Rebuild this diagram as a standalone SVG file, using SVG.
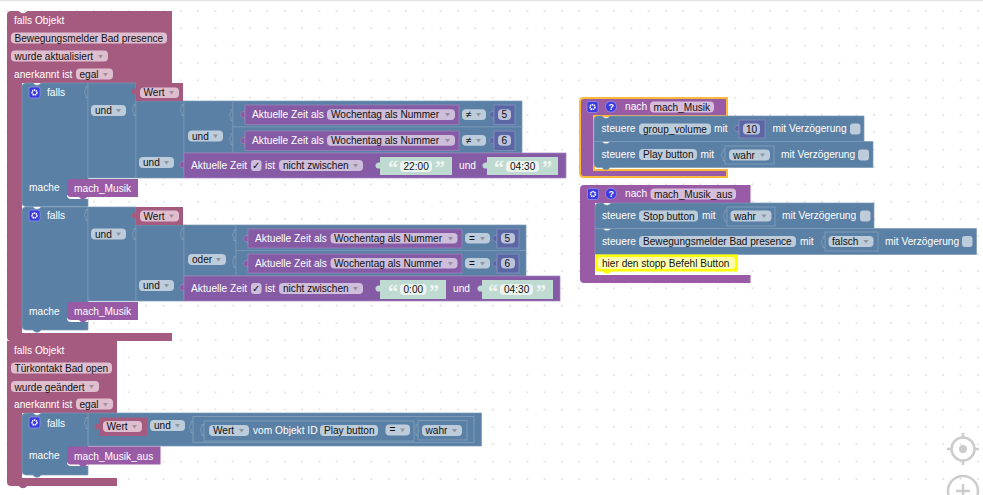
<svg xmlns="http://www.w3.org/2000/svg" width="983" height="495" viewBox="0 0 983 495">
<style>
text{font-family:"Liberation Sans",Arial,sans-serif;font-size:10.2px;fill:#fff;dominant-baseline:central}
text.d{fill:#111;font-size:10.1px}
text.q{font-size:20px;fill:#fff;opacity:.75;font-family:"Liberation Serif",serif;font-weight:bold}
.pk{fill:#a55b80}.bl{fill:#5b80a5;stroke:#7c99b7;stroke-width:.7}.tm{fill:#855ba5;stroke:#a484bc;stroke-width:.7}.pr{fill:#995ba5}
.gr{fill:#bfdbd1}.nm{fill:#5b67a5;stroke:#8089bb;stroke-width:1}
.fp{fill:#dfbfcf}.fb{fill:#bdccdb}.ft{fill:#cebddb}.fr{fill:#d6bddb}.fg{fill:#ebf4f1}.fn{fill:#bdc2db}
.ln{fill:none;stroke:#7c99b7;stroke-width:1}
.sk{fill:#fff;fill-opacity:0;stroke:#7c99b7;stroke-width:1}
.ar{fill:#555;opacity:.45}
.gear{fill:#3a3ae0;stroke:#9a9aee;stroke-width:.7}
</style>
<defs>
<pattern id="grid" x="7.4" y="11" width="17.33" height="17.33" patternUnits="userSpaceOnUse"><rect x="-.7" y="-.7" width="1.6" height="1.6" fill="#dcdcdc"/><rect x="16.6" y="16.6" width="1.6" height="1.6" fill="#dcdcdc"/><rect x="16.6" y="-.7" width="1.6" height="1.6" fill="#dcdcdc"/><rect x="-.7" y="16.6" width="1.6" height="1.6" fill="#dcdcdc"/></pattern>
<path id="tab" d="M0-5.5V-3.5C-6-4.5-6 3.5 0 2.5V5.5Z"/>
<path id="sock" d="M0-5.500h-2V-2.500C-4-2.500-4 2.500-2 2.500V5.500H0" fill="none"/>
<path id="ar" d="M0 0h5l-2.500 3.500z"/>
<g id="gr"><rect width="11" height="11" rx="2" class="gear"/><circle cx="5.500" cy="5.500" r="2.400" fill="none" stroke="#fff" stroke-width="1.600" stroke-dasharray="1.400 .5"/></g>
</defs>
<rect width="983" height="495" fill="#fff"/>
<rect width="983" height="495" fill="url(#grid)"/>
<rect width="983" height="1.200" fill="#e3e3e3"/>

<g id="connectors"></g>

<g id="trigger-bewegung">
<path class="pk" d="M11 11H19C21 14 25 14 27 11H172V83H22V333H172V341H27C25 344 21 344 19 341H11Q7 341 7 337V15Q7 11 11 11Z"/>
<text x="14" y="20.500">falls Objekt</text>
<rect class="fp" x="11" y="32.500" width="156" height="11" rx="4"/><text class="d" x="14.500" y="38.500">Bewegungsmelder Bad presence</text>
<rect class="fp" x="11" y="50.500" width="97" height="11" rx="4"/><text class="d" x="14.500" y="56.500">wurde aktualisiert</text><use href="#ar" x="98" y="55" class="ar"/>
<text x="14" y="74.500">anerkannt ist</text>
<rect class="fp" x="76" y="68.500" width="37" height="11" rx="4"/><text class="d" x="79.500" y="74.500">egal</text><use href="#ar" x="103" y="73" class="ar"/>
</g>

<g id="falls-1">
<path class="bl" d="M26 83H33C35 86 39 86 41 83H88V206.500H26Q22 206.500 22 202.500V87Q22 83 26 83Z"/>
<rect class="bl" x="88" y="83" width="48" height="95"/>
<rect class="bl" x="136" y="101" width="48" height="77"/>
<rect class="bl" x="184" y="101" width="49" height="52"/>
<rect class="bl" x="233" y="101" width="289" height="26"/>
<rect class="bl" x="233" y="127" width="289" height="26"/>
<path d="M67 195H88V199H71Q67 199 67 195Z" fill="#fff"/>
<use href="#gr" x="29" y="87"/>
<text x="47" y="92.500">falls</text>
<use href="#sock" x="88" y="92" class="ln"/><use href="#sock" x="136" y="110" class="ln"/><use href="#sock" x="184" y="110" class="ln"/><use href="#sock" x="233" y="115" class="ln"/><use href="#sock" x="233" y="139" class="ln"/>
<rect class="fb" x="91" y="105" width="35" height="11" rx="4"/><text class="d" x="95" y="110.500">und</text><use href="#ar" x="116" y="109" class="ar"/>
<rect class="fb" x="188" y="130.500" width="35" height="11" rx="4"/><text class="d" x="192" y="136">und</text><use href="#ar" x="213" y="134.500" class="ar"/>
<rect class="fb" x="139" y="157" width="35" height="11" rx="4"/><text class="d" x="143" y="162.500">und</text><use href="#ar" x="164" y="161" class="ar"/>
<text x="29" y="187">mache</text>
</g>
<g id="wert-1"><use href="#tab" x="136" y="92" class="pk"/><rect class="pk" x="136" y="83" width="47" height="18"/><rect class="fp" x="140" y="87.500" width="39" height="10.500" rx="4"/><text class="d" x="143.500" y="92.500">Wert</text><use href="#ar" x="169" y="91" class="ar"/></g>
<g id="zeit-1a"><use href="#tab" x="245" y="115" class="tm"/><rect class="tm" x="245" y="105" width="214" height="19.500"/><text x="252" y="114.700">Aktuelle Zeit als</text><rect class="ft" x="327" y="109.300" width="128" height="10.700" rx="4"/><text class="d" x="331" y="114.700">Wochentag als Nummer</text><use href="#ar" x="445" y="113" class="ar"/>
<rect class="fb" x="462" y="109.300" width="24" height="10.700" rx="4"/><text class="d" x="466" y="114.500">≠</text><use href="#ar" x="476" y="113" class="ar"/></g>
<g id="num-1a"><use href="#tab" x="494" y="115" class="nm"/><rect class="nm" x="494" y="105" width="21" height="19.500"/><rect class="fn" x="498" y="109.300" width="13" height="10.700" rx="4"/><text class="d" x="501.500" y="114.700">5</text></g>
<g id="zeit-1b"><use href="#tab" x="245" y="141" class="tm"/><rect class="tm" x="245" y="131" width="214" height="19.500"/><text x="252" y="140.500">Aktuelle Zeit als</text><rect class="ft" x="327" y="135" width="128" height="10.700" rx="4"/><text class="d" x="331" y="140.500">Wochentag als Nummer</text><use href="#ar" x="445" y="139" class="ar"/>
<rect class="fb" x="462" y="135" width="24" height="10.700" rx="4"/><text class="d" x="466" y="140">≠</text><use href="#ar" x="476" y="139" class="ar"/></g>
<g id="num-1b"><use href="#tab" x="494" y="141" class="nm"/><rect class="nm" x="494" y="131" width="21" height="19.500"/><rect class="fn" x="498" y="135" width="13" height="10.700" rx="4"/><text class="d" x="501.500" y="140.500">6</text></g>
<g id="zeit-1c"><use href="#tab" x="184" y="165" class="tm"/><rect class="tm" x="184" y="153" width="382" height="25"/><text x="191" y="165.500">Aktuelle Zeit</text><rect class="ft" x="251" y="160" width="10.500" height="11" rx="3"/><text class="d" x="252" y="165.500">✓</text><text x="265" y="165.500">ist</text>
<rect class="ft" x="279" y="160" width="84" height="11" rx="4"/><text class="d" x="283" y="165.500">nicht zwischen</text><use href="#ar" x="353" y="164" class="ar"/>
<use href="#tab" x="380" y="166" class="gr"/><rect class="gr" x="380" y="157" width="72" height="18"/><text class="q" x="388" y="168">“</text><rect class="fg" x="400" y="161" width="32" height="11" rx="4"/><text class="d" x="403.500" y="166.500">22:00</text><text class="q" x="435" y="168">”</text>
<text x="459" y="165.500">und</text>
<use href="#tab" x="487" y="166" class="gr"/><rect class="gr" x="487" y="157" width="71" height="18"/><text class="q" x="494" y="168">“</text><rect class="fg" x="506" y="161" width="33" height="11" rx="4"/><text class="d" x="510" y="166.500">04:30</text><text class="q" x="542" y="168">”</text></g>
<g id="call-1"><path class="pr" d="M71 179H138V197H87C85 200 81 200 79 197H71Q67 197 67 193V183Q67 179 71 179Z"/><text x="74" y="188">mach_Musik</text></g>

<g id="falls-2">
<path class="bl" d="M26 207H33C35 210 39 210 41 207H88V330H41C39 333 35 333 33 330H26Q22 330 22 326V211Q22 207 26 207Z"/>
<rect class="bl" x="88" y="207" width="48" height="94"/>
<rect class="bl" x="136" y="225" width="48" height="76"/>
<rect class="bl" x="184" y="225" width="52" height="51"/>
<rect class="bl" x="236" y="225" width="290" height="25.500"/>
<rect class="bl" x="236" y="250.500" width="290" height="25.500"/>
<path d="M67 318H88V322H71Q67 322 67 318Z" fill="#fff"/>
<use href="#gr" x="29" y="210"/>
<text x="47" y="215.500">falls</text>
<use href="#sock" x="88" y="215" class="ln"/><use href="#sock" x="136" y="234" class="ln"/><use href="#sock" x="184" y="234" class="ln"/><use href="#sock" x="236" y="235" class="ln"/><use href="#sock" x="236" y="262" class="ln"/>
<rect class="fb" x="91" y="228.500" width="35" height="11" rx="4"/><text class="d" x="95" y="234">und</text><use href="#ar" x="116" y="232.500" class="ar"/>
<rect class="fb" x="188" y="254" width="38" height="11" rx="4"/><text class="d" x="192" y="259.500">oder</text><use href="#ar" x="216" y="258" class="ar"/>
<rect class="fb" x="139" y="280" width="35" height="11" rx="4"/><text class="d" x="143" y="285.500">und</text><use href="#ar" x="164" y="284" class="ar"/>
<text x="29" y="311">mache</text>
</g>
<g id="wert-2"><use href="#tab" x="136" y="216" class="pk"/><rect class="pk" x="136" y="207" width="47" height="18"/><rect class="fp" x="140" y="210.500" width="39" height="11" rx="4"/><text class="d" x="143.500" y="216">Wert</text><use href="#ar" x="169" y="214.500" class="ar"/></g>
<g id="zeit-2a"><use href="#tab" x="248" y="239" class="tm"/><rect class="tm" x="248" y="229" width="214" height="19"/><text x="255" y="238.500">Aktuelle Zeit als</text><rect class="ft" x="330.500" y="233" width="127" height="10.500" rx="4"/><text class="d" x="334" y="238.500">Wochentag als Nummer</text><use href="#ar" x="448" y="237" class="ar"/>
<rect class="fb" x="465" y="233" width="25" height="10.500" rx="4"/><text class="d" x="469" y="238">=</text><use href="#ar" x="480" y="237" class="ar"/></g>
<g id="num-2a"><use href="#tab" x="497" y="239" class="nm"/><rect class="nm" x="497" y="229" width="22" height="19"/><rect class="fn" x="501" y="233" width="14" height="10.500" rx="4"/><text class="d" x="504.500" y="238.500">5</text></g>
<g id="zeit-2b"><use href="#tab" x="248" y="264" class="tm"/><rect class="tm" x="248" y="254" width="214" height="19"/><text x="255" y="263.500">Aktuelle Zeit als</text><rect class="ft" x="330.500" y="258" width="127" height="10.500" rx="4"/><text class="d" x="334" y="263.500">Wochentag als Nummer</text><use href="#ar" x="448" y="262" class="ar"/>
<rect class="fb" x="465" y="258" width="25" height="10.500" rx="4"/><text class="d" x="469" y="263">=</text><use href="#ar" x="480" y="262" class="ar"/></g>
<g id="num-2b"><use href="#tab" x="497" y="264" class="nm"/><rect class="nm" x="497" y="254" width="22" height="19"/><rect class="fn" x="501" y="258" width="14" height="10.500" rx="4"/><text class="d" x="504.500" y="263.500">6</text></g>
<g id="zeit-2c"><use href="#tab" x="184" y="288" class="tm"/><rect class="tm" x="184" y="276" width="376" height="25"/><text x="191" y="288.500">Aktuelle Zeit</text><rect class="ft" x="251" y="283" width="10.500" height="11" rx="3"/><text class="d" x="252" y="288.500">✓</text><text x="265" y="288.500">ist</text>
<rect class="ft" x="279" y="283" width="84" height="11" rx="4"/><text class="d" x="283" y="288.500">nicht zwischen</text><use href="#ar" x="353" y="287" class="ar"/>
<use href="#tab" x="380" y="289" class="gr"/><rect class="gr" x="380" y="280" width="66" height="19"/><text class="q" x="388" y="291.500">“</text><rect class="fg" x="400" y="284" width="26.500" height="11" rx="4"/><text class="d" x="403.500" y="289.500">0:00</text><text class="q" x="429" y="291.500">”</text>
<text x="453" y="288.500">und</text>
<use href="#tab" x="482" y="289" class="gr"/><rect class="gr" x="482" y="280" width="71" height="19"/><text class="q" x="488" y="291.500">“</text><rect class="fg" x="500" y="284" width="33" height="11" rx="4"/><text class="d" x="504" y="289.500">04:30</text><text class="q" x="536" y="291.500">”</text></g>
<g id="call-2"><path class="pr" d="M71 302H138V320H87C85 323 81 323 79 320H71Q67 320 67 316V306Q67 302 71 302Z"/><text x="74" y="311.500">mach_Musik</text></g>

<g id="trigger-tuer">
<path class="pk" d="M7 341H117V413H22V478H117V486H27C25 489 21 489 19 486H11Q7 486 7 482V341Z"/>
<text x="14" y="350">falls Objekt</text>
<rect class="fp" x="11" y="362.500" width="101" height="11" rx="4"/><text class="d" x="14.500" y="368.500">Türkontakt Bad open</text>
<rect class="fp" x="11" y="381" width="88" height="11" rx="4"/><text class="d" x="14.500" y="387">wurde geändert</text><use href="#ar" x="89" y="385" class="ar"/>
<text x="14" y="404.500">anerkannt ist</text>
<rect class="fp" x="76" y="398.500" width="37" height="11" rx="4"/><text class="d" x="79.500" y="404.500">egal</text><use href="#ar" x="103" y="403" class="ar"/>
</g>
<g id="falls-3">
<path class="bl" d="M26 413H33C35 416 39 416 41 413H481.500V446H88V475H41C39 478 35 478 33 475H26Q22 475 22 471V417Q22 413 26 413Z"/>
<path d="M67 462H88V466H71Q67 466 67 462Z" fill="#fff"/>
<path class="ln" d="M88 413V446"/>
<use href="#gr" x="29" y="417"/>
<text x="47" y="423">falls</text>
<use href="#sock" x="88" y="423" class="ln"/>
<rect class="fb" x="150" y="420" width="35" height="11" rx="4"/><text class="d" x="154" y="425.500">und</text><use href="#ar" x="175" y="424" class="ar"/>
<use href="#sock" x="193" y="427" class="ln"/>
<rect class="sk" x="193" y="416.500" width="281" height="26"/>
<use href="#sock" x="204" y="430" class="ln"/>
<rect class="sk" x="204" y="421" width="210" height="20"/>
<rect class="fb" x="209" y="425" width="40" height="11" rx="4"/><text class="d" x="213" y="430.500">Wert</text><use href="#ar" x="239" y="429" class="ar"/>
<text x="253" y="430.500">vom Objekt ID</text>
<rect class="fb" x="320" y="425" width="58" height="11" rx="4"/><text class="d" x="324" y="430.500">Play button</text>
<rect class="fb" x="385.500" y="424.500" width="24.500" height="11" rx="4"/><text class="d" x="389.500" y="429.500">=</text><use href="#ar" x="400" y="428.500" class="ar"/>
<use href="#sock" x="418" y="430" class="ln"/>
<rect class="sk" x="418" y="420.500" width="49" height="19.500"/>
<rect class="fb" x="422" y="425" width="40" height="11" rx="4"/><text class="d" x="425.500" y="430.500">wahr</text><use href="#ar" x="452" y="429" class="ar"/>
<text x="29" y="455">mache</text>
</g>
<g id="wert-3"><use href="#tab" x="99" y="427" class="pk"/><rect class="pk" x="99" y="417.500" width="48" height="18.500"/><rect class="fp" x="103" y="421" width="39" height="11" rx="4"/><text class="d" x="106.500" y="426.500">Wert</text><use href="#ar" x="132" y="425" class="ar"/></g>
<g id="call-3"><path class="pr" d="M71 446.500H160.500V464.500H87C85 467.500 81 467.500 79 464.500H71Q67 464.500 67 460.500V450.500Q67 446.500 71 446.500Z"/><text x="74" y="456">mach_Musik_aus</text></g>

<g id="proc-musik">
<path class="pr" d="M584 98H727V116H594V170H727V177H584Q580 177 580 173V102Q580 98 584 98Z" stroke="#fdb93a" stroke-width="2"/>
<use href="#gr" x="587" y="101.500"/>
<circle cx="611" cy="106.700" r="5.500" fill="#3a3ae0" stroke="#9a9aee" stroke-width=".7"/><text x="608.500" y="107" style="font-size:9px;font-weight:bold">?</text>
<text x="625" y="106.700">nach</text>
<rect class="fr" x="650" y="101.500" width="64" height="11" rx="4"/><text class="d" x="653.500" y="107">mach_Musik</text>
</g>
<g id="set-volume">
<path class="bl" d="M598 116H602C604 119 608 119 610 116H864V141.500H594V120Q594 116 598 116Z"/>
<text x="601.500" y="128.700">steuere</text><rect class="fb" x="639" y="123.500" width="72" height="11" rx="4"/><text class="d" x="643" y="129">group_volume</text><text x="714" y="128.700">mit</text>
<use href="#tab" x="739" y="129" class="nm"/><rect class="nm" x="739" y="120" width="26" height="18"/><rect class="fn" x="743" y="123.500" width="17" height="11" rx="4"/><text class="d" x="746" y="129">10</text>
<text x="772.500" y="128.700">mit Verzögerung</text><rect class="fb" x="850" y="123.500" width="10.500" height="11" rx="3"/>
</g>
<g id="set-play">
<path class="bl" d="M594 141.500H602C604 144.500 608 144.500 610 141.500H873V167.500H610C608 170.500 604 170.500 602 167.500H598Q594 167.500 594 163.500Z"/>
<text x="601.500" y="154.700">steuere</text><rect class="fb" x="639" y="149" width="58" height="11" rx="4"/><text class="d" x="643" y="154.500">Play button</text><text x="700.500" y="154.700">mit</text>
<use href="#sock" x="725" y="155" class="ln"/><rect class="sk" x="725" y="146" width="49" height="18"/><rect class="fb" x="729" y="149.500" width="41" height="11" rx="4"/><text class="d" x="733" y="155">wahr</text><use href="#ar" x="760" y="153.500" class="ar"/>
<text x="781" y="154.700">mit Verzögerung</text><rect class="fb" x="858" y="149.500" width="11" height="11" rx="3"/>
</g>

<g id="proc-aus">
<path class="pr" d="M584 185H750.500V203H595V275H750.500V283H584Q580 283 580 279V189Q580 185 584 185Z"/>
<use href="#gr" x="587.500" y="188.500"/>
<circle cx="611" cy="193.700" r="5.500" fill="#3a3ae0" stroke="#9a9aee" stroke-width=".7"/><text x="608.500" y="194" style="font-size:9px;font-weight:bold">?</text>
<text x="625" y="193.700">nach</text>
<rect class="fr" x="650.500" y="188.500" width="85.500" height="11" rx="4"/><text class="d" x="654" y="194">mach_Musik_aus</text>
</g>
<g id="set-stop">
<path class="bl" d="M599 203H603C605 206 609 206 611 203H874V228.500H595V207Q595 203 599 203Z"/>
<text x="602" y="215.700">steuere</text><rect class="fb" x="639" y="210.500" width="59" height="11" rx="4"/><text class="d" x="643" y="216">Stop button</text><text x="702" y="215.700">mit</text>
<use href="#sock" x="727" y="216" class="ln"/><rect class="sk" x="727" y="207" width="48" height="19"/><rect class="fb" x="730.500" y="210.500" width="41" height="11" rx="4"/><text class="d" x="734" y="216">wahr</text><use href="#ar" x="761.500" y="214.500" class="ar"/>
<text x="782" y="215.700">mit Verzögerung</text><rect class="fb" x="860" y="210.500" width="10.500" height="11" rx="3"/>
</g>
<g id="set-presence">
<path class="bl" d="M595 228.500H603C605 231.500 609 231.500 611 228.500H976.500V254.500H595Z"/>
<text x="602" y="241.700">steuere</text><rect class="fb" x="639" y="236" width="157" height="11" rx="4"/><text class="d" x="643" y="241.700">Bewegungsmelder Bad presence</text><text x="800" y="241.700">mit</text>
<use href="#sock" x="825" y="242" class="ln"/><rect class="sk" x="825" y="232" width="53" height="19"/><rect class="fb" x="828.500" y="236" width="45" height="11" rx="4"/><text class="d" x="832" y="241.700">falsch</text><use href="#ar" x="863.500" y="240" class="ar"/>
<text x="885" y="241.700">mit Verzögerung</text><rect class="fb" x="962" y="236" width="10.500" height="11" rx="3"/>
</g>
<g id="comment">
<path d="M595 254.500H738V271.500H611C609 274.500 605 274.500 603 271.500H599Q595 271.500 595 267.500Z" fill="#ffff00"/>
<rect x="598" y="257" width="137" height="12" rx="3" fill="#ffffb0"/><text class="d" x="602" y="263.500">hier den stopp Befehl Button</text>
</g>

<g id="controls" fill="none" stroke="#ccc">
<circle cx="963" cy="449" r="11.500" stroke-width="2.500"/><path d="M963 433v5M963 460v5M947 449h5M974 449h5" stroke-width="2.500"/><circle cx="963" cy="449" r="4" fill="#ccc" stroke="none"/>
<circle cx="963" cy="491" r="15" stroke-width="2.500"/><path d="M963 484v14M956 491h14" stroke-width="2.500"/>
</g>
</svg>
